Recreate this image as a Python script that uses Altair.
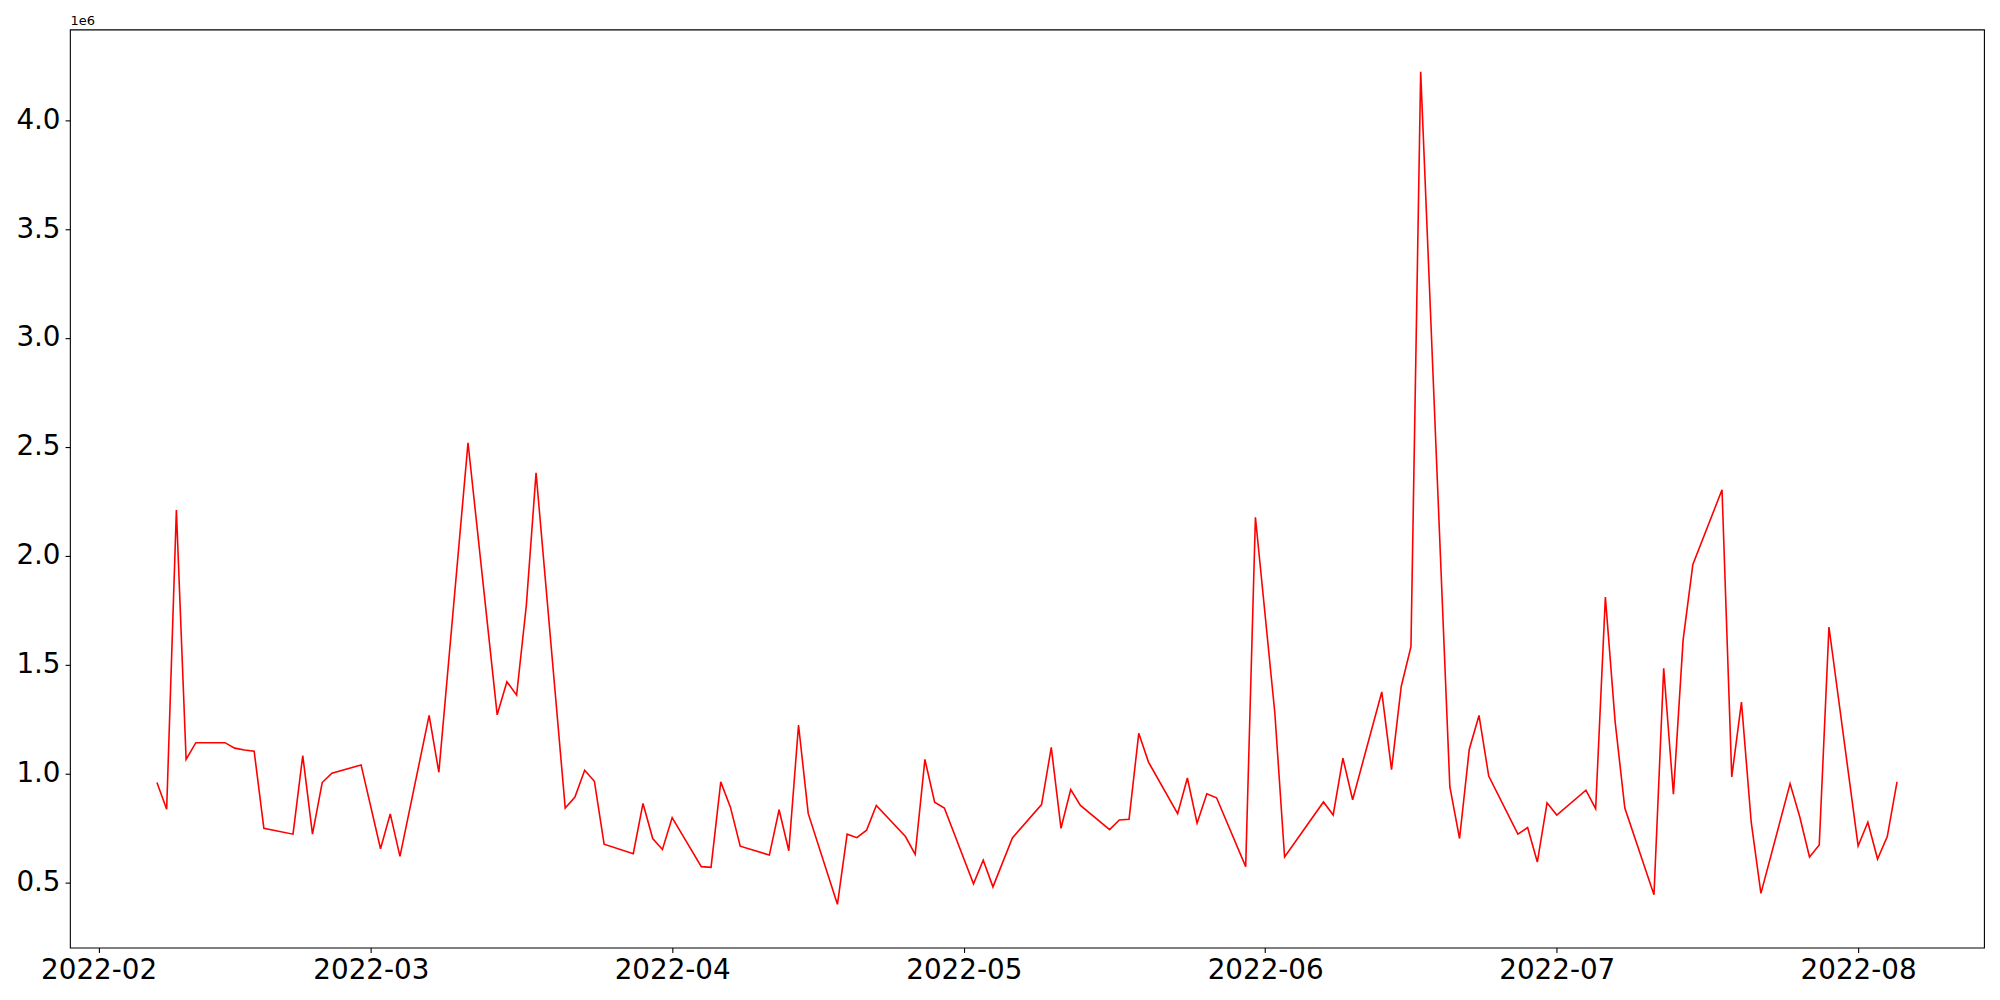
import altair as alt
import pandas as pd

dates = [
    "2022-02-07", "2022-02-08", "2022-02-09", "2022-02-10", "2022-02-11",
    "2022-02-14", "2022-02-15", "2022-02-16", "2022-02-17", "2022-02-18",
    "2022-02-21", "2022-02-22", "2022-02-23", "2022-02-24", "2022-02-25",
    "2022-02-28", "2022-03-02", "2022-03-03", "2022-03-04",
    "2022-03-07", "2022-03-08", "2022-03-11",
    "2022-03-14", "2022-03-15", "2022-03-16", "2022-03-17", "2022-03-18",
    "2022-03-21", "2022-03-22", "2022-03-23", "2022-03-24", "2022-03-25",
    "2022-03-28", "2022-03-29", "2022-03-30", "2022-03-31", "2022-04-01",
    "2022-04-04", "2022-04-05", "2022-04-06", "2022-04-07", "2022-04-08",
    "2022-04-11", "2022-04-12", "2022-04-13", "2022-04-14", "2022-04-15",
    "2022-04-18", "2022-04-19", "2022-04-20", "2022-04-21", "2022-04-22",
    "2022-04-25", "2022-04-26", "2022-04-27", "2022-04-28", "2022-04-29",
    "2022-05-02", "2022-05-03", "2022-05-04", "2022-05-06",
    "2022-05-09", "2022-05-10", "2022-05-11", "2022-05-12", "2022-05-13",
    "2022-05-16", "2022-05-17", "2022-05-18", "2022-05-19", "2022-05-20",
    "2022-05-23", "2022-05-24", "2022-05-25", "2022-05-26", "2022-05-27",
    "2022-05-30", "2022-05-31", "2022-06-02", "2022-06-03",
    "2022-06-07", "2022-06-08", "2022-06-09", "2022-06-10",
    "2022-06-13", "2022-06-14", "2022-06-15", "2022-06-16", "2022-06-17",
    "2022-06-20", "2022-06-21", "2022-06-22", "2022-06-23", "2022-06-24",
    "2022-06-27", "2022-06-28", "2022-06-29", "2022-06-30", "2022-07-01",
    "2022-07-04", "2022-07-05", "2022-07-06", "2022-07-07", "2022-07-08",
    "2022-07-11", "2022-07-12", "2022-07-13", "2022-07-14", "2022-07-15",
    "2022-07-18", "2022-07-19", "2022-07-20", "2022-07-21", "2022-07-22",
    "2022-07-25", "2022-07-26", "2022-07-27", "2022-07-28", "2022-07-29",
    "2022-08-01", "2022-08-02", "2022-08-03", "2022-08-04", "2022-08-05",
]

# values in units of 1e6
values = [
    0.959, 0.836, 2.210, 1.065, 1.142,
    1.142, 1.117, 1.108, 1.103, 0.749,
    0.722, 1.083, 0.722, 0.959, 1.002,
    1.040, 0.655, 0.815, 0.620,
    1.267, 1.006, 2.519,
    1.270, 1.422, 1.360, 1.773, 2.381,
    0.842, 0.892, 1.015, 0.965, 0.676,
    0.632, 0.863, 0.702, 0.652, 0.798,
    0.573, 0.570, 0.962, 0.845, 0.667,
    0.626, 0.834, 0.646, 1.223, 0.816,
    0.400, 0.722, 0.706, 0.740, 0.854,
    0.711, 0.629, 1.065, 0.869, 0.842,
    0.494, 0.602, 0.480, 0.705,
    0.858, 1.120, 0.749, 0.927, 0.854,
    0.743, 0.787, 0.790, 1.185, 1.053,
    0.816, 0.980, 0.772, 0.907, 0.889,
    0.573, 2.177, 1.277, 0.617,
    0.870, 0.810, 1.071, 0.880,
    1.375, 1.018, 1.400, 1.583, 4.222,
    0.940, 0.702, 1.112, 1.267, 0.989,
    0.722, 0.752, 0.594, 0.866, 0.810,
    0.924, 0.839, 1.811, 1.240, 0.842,
    0.444, 1.483, 0.905, 1.615, 1.960,
    2.303, 0.985, 1.328, 0.778, 0.450,
    0.954, 0.801, 0.617, 0.672, 1.673,
    0.668, 0.777, 0.608, 0.711, 0.962,
]

y_ticks = [0.5, 1.0, 1.5, 2.0, 2.5, 3.0, 3.5, 4.0]
month_ticks = [2, 3, 4, 5, 6, 7, 8]

df = pd.DataFrame({"date": dates, "value": values})

FONT = "DejaVu Sans"

x_enc = alt.X(
    "date:T",
    scale=alt.Scale(
        type="utc",
        domain=[
            alt.DateTime(year=2022, month=1, date=29, hours=1, minutes=12, utc=True),
            alt.DateTime(year=2022, month=8, date=13, hours=22, minutes=48, utc=True),
        ],
        nice=False,
    ),
    axis=alt.Axis(
        values=[alt.DateTime(year=2022, month=m, date=1, utc=True) for m in month_ticks],
        format="%Y-%m",
        title=None,
        grid=False,
        domain=False,
        tickSize=4.9,
        tickWidth=1.1,
        tickColor="black",
        labelPadding=4,
        labelFont=FONT,
        labelFontSize=27.8,
        labelColor="black",
        labelFlush=False,
        labelOverlap=False,
    ),
)

y_enc = alt.Y(
    "value:Q",
    scale=alt.Scale(domain=[0.2015, 4.416], nice=False, zero=False),
    axis=alt.Axis(
        values=y_ticks,
        format=".1f",
        title="1e6",
        titleAngle=0,
        titleX=0,
        titleY=-5,
        titleAlign="left",
        titleBaseline="alphabetic",
        titleFont=FONT,
        titleFontSize=13,
        titleFontWeight="normal",
        titleColor="black",
        grid=False,
        domain=False,
        tickSize=4.9,
        tickWidth=1.1,
        tickColor="black",
        labelPadding=5,
        labelFont=FONT,
        labelFontSize=27.8,
        labelColor="black",
        labelFlush=False,
        labelOverlap=False,
    ),
)

chart = (
    alt.Chart(df)
    .mark_line(color="red", strokeWidth=1.6)
    .encode(x=x_enc, y=y_enc)
    .properties(
        width=1916,
        height=919,
        autosize=alt.AutoSizeParams(type="none"),
        padding={"left": 62, "top": 21, "right": 8, "bottom": 50},
        background="white",
    )
    .configure_view(stroke="black", strokeWidth=1.1)
)

chart.save("out.html", embed_options={"renderer": "svg", "actions": False})
